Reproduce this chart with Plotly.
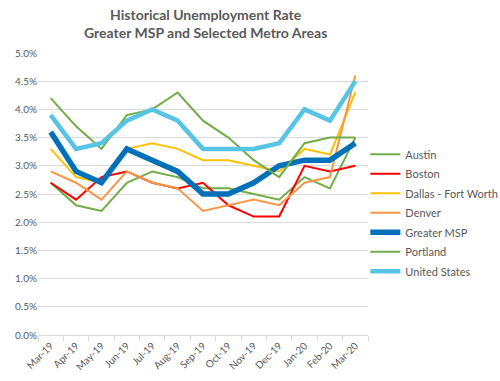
import plotly.graph_objects as go

months = ["Mar-19", "Apr-19", "May-19", "Jun-19", "Jul-19", "Aug-19", "Sep-19",
          "Oct-19", "Nov-19", "Dec-19", "Jan-20", "Feb-20", "Mar-20"]

austin = [2.7, 2.3, 2.2, 2.7, 2.9, 2.8, 2.6, 2.6, 2.5, 2.4, 2.8, 2.6, 3.5]
boston = [2.7, 2.4, 2.8, 2.9, 2.7, 2.6, 2.7, 2.3, 2.1, 2.1, 3.0, 2.9, 3.0]
dallas = [3.3, 2.8, 2.7, 3.3, 3.4, 3.3, 3.1, 3.1, 3.0, 2.9, 3.3, 3.2, 4.3]
denver = [2.9, 2.7, 2.4, 2.9, 2.7, 2.6, 2.2, 2.3, 2.4, 2.3, 2.7, 2.8, 4.6]
msp = [3.6, 2.9, 2.7, 3.3, 3.1, 2.9, 2.5, 2.5, 2.7, 3.0, 3.1, 3.1, 3.4]
portland = [4.2, 3.7, 3.3, 3.9, 4.0, 4.3, 3.8, 3.5, 3.1, 2.8, 3.4, 3.5, 3.5]
us = [3.9, 3.3, 3.4, 3.8, 4.0, 3.8, 3.3, 3.3, 3.3, 3.4, 4.0, 3.8, 4.5]

series = [
    ("Austin", austin, "#70AD47", 2),
    ("Boston", boston, "#FF0000", 2),
    ("Dallas - Fort Worth", dallas, "#FFC000", 2),
    ("Denver", denver, "#F79646", 2),
    ("Greater MSP", msp, "#0070B8", 5.5),
    ("Portland", portland, "#70AD47", 2),
    ("United States", us, "#57C4E6", 4.5),
]

fig = go.Figure()
for name, vals, color, width in series:
    fig.add_trace(go.Scatter(
        x=months, y=vals, name=name, mode="lines",
        line=dict(color=color, width=width),
        legendgroup=name,
    ))

fig.update_layout(
    template="none",
    width=500, height=381,
    margin=dict(l=38, r=132, t=53, b=46, autoexpand=False),
    paper_bgcolor="white", plot_bgcolor="white",
    font=dict(family="Lato, Open Sans, sans-serif", color="#595959", size=10),
    title=dict(
        text="<b>Historical Unemployment Rate<br>Greater MSP and Selected Metro Areas</b>",
        x=0.508, xanchor="center", xref="paper", y=0.947, yanchor="middle", yref="container",
        font=dict(size=14, color="#595959"),
    ),
    legend=dict(
        x=0.992, xanchor="left", y=0.692, yanchor="top",
        font=dict(size=11, color="#595959"),
        tracegroupgap=0.5,
        itemwidth=30,
        bgcolor="rgba(0,0,0,0)",
    ),
    showlegend=True,
)
fig.update_xaxes(
    type="category", range=[-0.5, len(months) - 0.5],
    showgrid=False, automargin=False,
    showline=True, linecolor="#D9D9D9", linewidth=1,
    ticks="outside", tickson="boundaries", ticklen=5, tickcolor="#D9D9D9",
    tickangle=-45, tickfont=dict(size=10, color="#595959"),
)
fig.update_yaxes(
    range=[0, 5.0], dtick=0.5, tickformat=".1f", ticksuffix="%",
    showgrid=True, gridcolor="#D9D9D9", gridwidth=1, automargin=False,
    zeroline=False, showline=False, ticks="",
    tickfont=dict(size=10, color="#595959"),
)

fig.write_html("out.html", config={"displayModeBar": False},
               post_script="document.body.style.margin='0';")
